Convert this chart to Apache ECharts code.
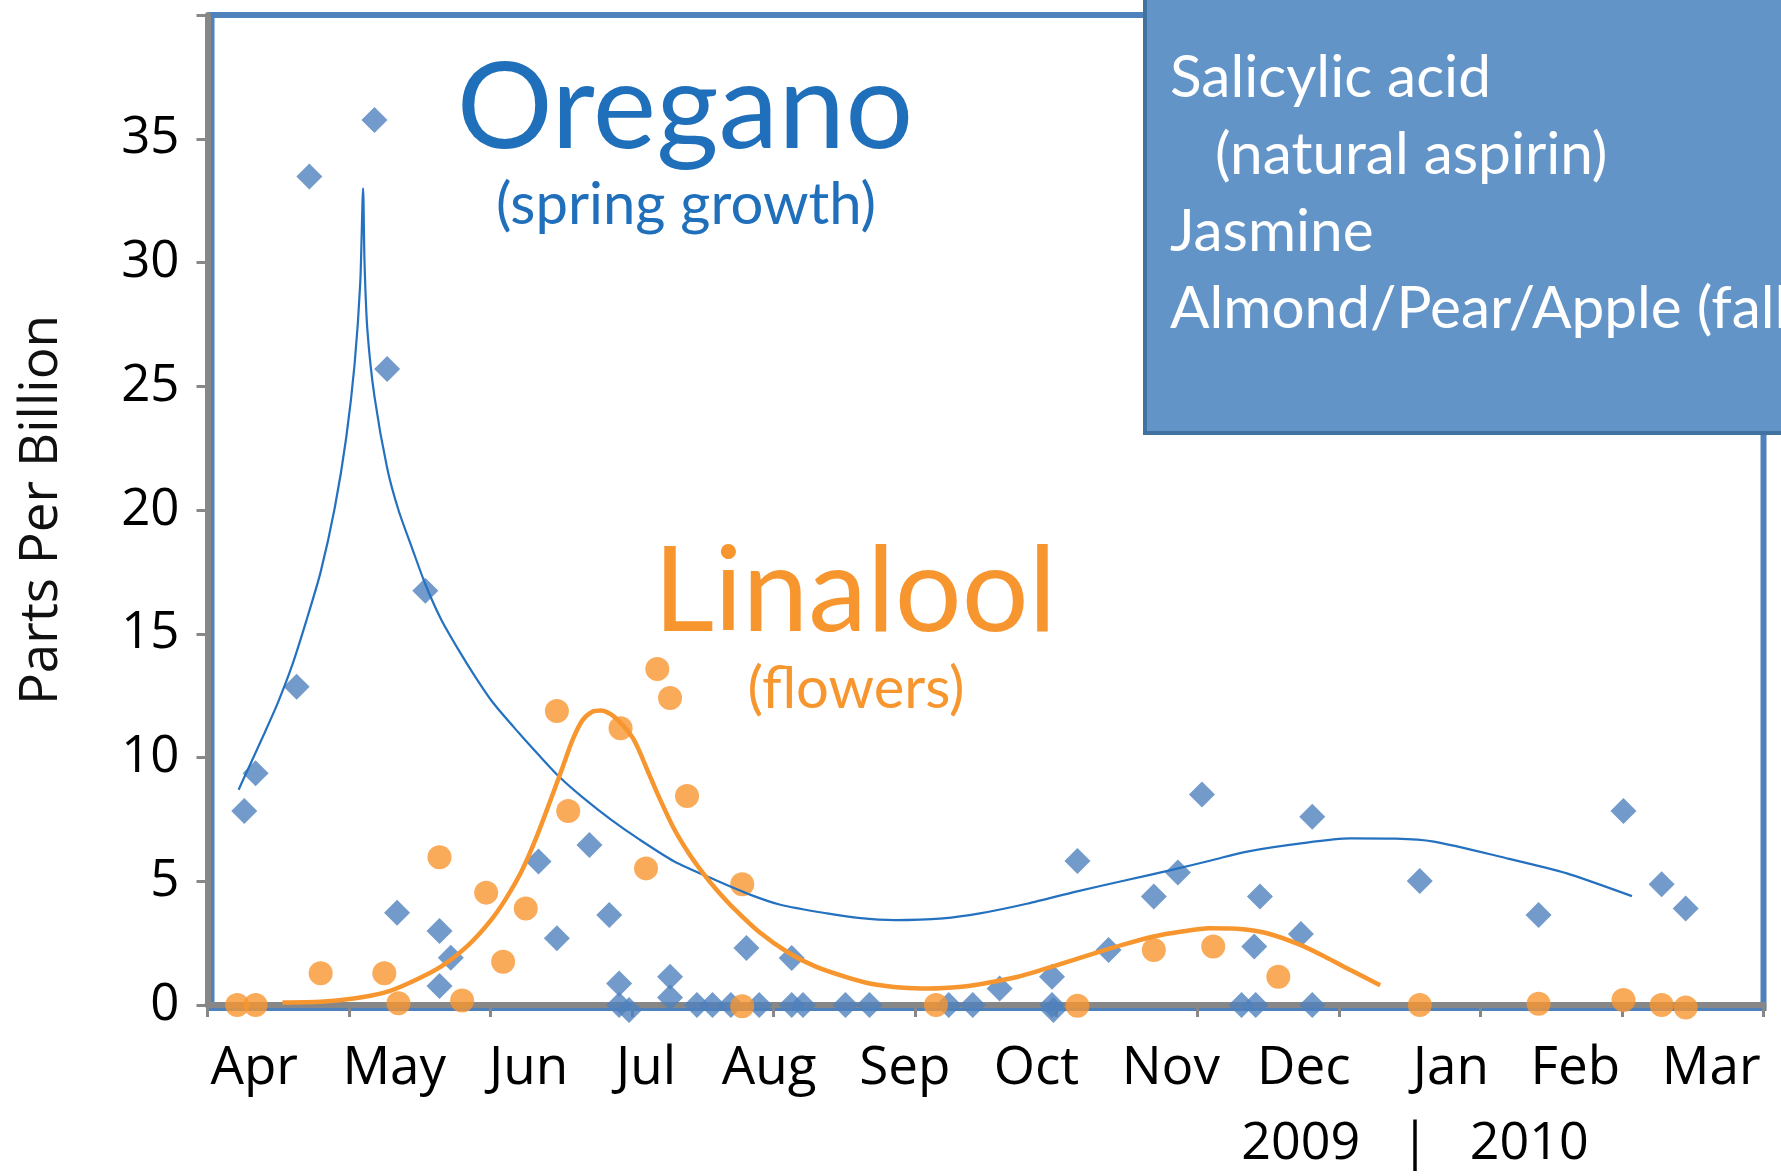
<!DOCTYPE html>
<html>
<head>
<meta charset="utf-8">
<title>Oregano / Linalool</title>
<script src="https://cdn.jsdelivr.net/npm/echarts@6.0.0/dist/echarts.min.js"></script>
<style>
  html, body { margin: 0; padding: 0; background: #fff; }
  #chart { width: 1781px; height: 1176px; }
</style>
</head>
<body>
<div id="chart"></div>
<script>
// x is in "months": 0 = first tick (start of Apr 2009), 11 = last tick
const monthNames = ['Apr', 'May', 'Jun', 'Jul', 'Aug', 'Sep', 'Oct', 'Nov', 'Dec', 'Jan', 'Feb', 'Mar'];
const monthLabelPos = [0.33, 1.32, 2.27, 3.10, 3.97, 4.93, 5.86, 6.81, 7.75, 8.79, 9.67, 10.63];

// measured points, parts per billion
const oreganoPoints = [
  [0.26, 7.84], [0.34, 9.36], [0.63, 12.86], [0.72, 33.47], [1.18, 35.76], [1.27, 25.7],
  [1.54, 16.74], [1.34, 3.73], [1.64, 2.99], [1.72, 1.91], [1.64, 0.77], [2.34, 5.8],
  [2.47, 2.7], [2.70, 6.46], [2.84, 3.64], [2.91, 0.87], [2.91, 0], [2.98, -0.2],
  [3.27, 1.14], [3.27, 0.3], [3.46, 0], [3.57, 0], [3.70, 0], [3.90, 0], [3.81, 2.3],
  [4.13, 1.9], [4.13, 0], [4.21, 0], [4.51, 0], [4.68, 0], [5.24, 0], [5.41, 0],
  [5.60, 0.67], [5.97, 1.14], [5.97, 0], [5.98, -0.2], [6.15, 5.82], [6.37, 2.22],
  [6.69, 4.38], [6.86, 5.35], [7.03, 8.51], [7.31, 0], [7.41, 0], [7.40, 2.36],
  [7.44, 4.38], [7.73, 2.87], [7.81, 7.61], [7.81, 0], [8.57, 5.01], [9.41, 3.64],
  [10.01, 7.84], [10.28, 4.88], [10.45, 3.9]
];
const linaloolPoints = [
  [0.21, 0], [0.34, 0], [0.80, 1.28], [1.25, 1.28], [1.35, 0.07], [1.64, 5.97],
  [1.80, 0.18], [1.97, 4.54], [2.09, 1.75], [2.25, 3.9], [2.47, 11.88], [2.55, 7.84],
  [2.92, 11.18], [3.10, 5.52], [3.18, 13.58], [3.27, 12.4], [3.39, 8.44], [3.78, 4.88],
  [3.78, -0.05], [5.15, 0], [6.15, -0.03], [6.69, 2.22], [7.11, 2.36], [7.57, 1.14],
  [8.57, 0], [9.41, 0.05], [10.01, 0.2], [10.28, 0], [10.45, -0.1]
];

// trend curves
const oreganoTrend = [
  [0.22, 8.7], [0.30, 9.7], [0.40, 10.95], [0.50, 12.25], [0.60, 13.75], [0.70, 15.55],
  [0.80, 17.5], [0.90, 20.1], [0.98, 22.9], [1.04, 25.9], [1.08, 29.2], [1.10, 33.0],
  [1.11, 30.0], [1.13, 27.3], [1.18, 24.6], [1.27, 21.7], [1.35, 20.0], [1.45, 18.4],
  [1.54, 17.0], [1.65, 15.6], [1.78, 14.3], [1.90, 13.2], [2.02, 12.2], [2.20, 11.0],
  [2.35, 10.05], [2.49, 9.2], [2.65, 8.4], [2.85, 7.5], [3.05, 6.7], [3.30, 5.8],
  [3.59, 5.05], [3.84, 4.45], [4.05, 4.05], [4.38, 3.7], [4.60, 3.52], [4.86, 3.43],
  [5.20, 3.5], [5.46, 3.7], [5.80, 4.1], [6.14, 4.58], [6.50, 5.05], [6.81, 5.45],
  [7.10, 5.85], [7.35, 6.2], [7.73, 6.53], [8.08, 6.73], [8.40, 6.72], [8.67, 6.6],
  [9.14, 5.99], [9.61, 5.32], [10.07, 4.40]
];
const linaloolTrend = [
  [0.53, 0.1], [0.80, 0.13], [1.02, 0.25], [1.25, 0.5], [1.43, 0.9], [1.65, 1.55],
  [1.84, 2.4], [2.00, 3.4], [2.11, 4.3], [2.22, 5.4], [2.32, 6.7], [2.42, 8.2],
  [2.51, 9.6], [2.58, 10.7], [2.65, 11.5], [2.72, 11.85], [2.78, 11.9], [2.85, 11.75],
  [2.92, 11.4], [3.00, 10.85], [3.05, 10.3], [3.12, 9.35], [3.20, 8.3], [3.30, 7.1],
  [3.40, 6.15], [3.50, 5.35], [3.60, 4.65], [3.73, 3.85], [3.90, 2.95], [4.11, 2.1],
  [4.30, 1.55], [4.51, 1.14], [4.70, 0.85], [4.92, 0.7], [5.10, 0.67], [5.33, 0.74],
  [5.50, 0.88], [5.73, 1.14], [6.00, 1.6], [6.27, 2.09], [6.48, 2.45], [6.68, 2.76],
  [6.90, 2.98], [7.08, 3.1], [7.28, 3.08], [7.49, 2.9], [7.73, 2.42], [7.90, 1.95],
  [8.08, 1.41], [8.29, 0.8]
];

const boxLines = ['Salicylic acid', '   (natural aspirin)', 'Jasmine', 'Almond/Pear/Apple (fall)'];

const axisGray = '#878787';
const labelFont = 'Open Sans';

function monthAt(v) {
  let best = 0;
  monthLabelPos.forEach((p, i) => {
    if (Math.abs(p - v) < Math.abs(monthLabelPos[best] - v)) best = i;
  });
  return monthNames[best];
}

const chart = echarts.init(document.getElementById('chart'));
const option = {
  backgroundColor: '#fff',
  animation: false,
  grid: [
    { left: 207.5, top: 15, right: 17.5, bottom: 171 },
    // blue plot frame, sits just inside the gray axes
    { left: 211.5, top: 15, right: 17.5, bottom: 168, show: true, borderColor: '#4f81bd', borderWidth: 6, z: -1 }
  ],
  xAxis: [
    {
      type: 'value', gridIndex: 0, min: 0, max: 11, interval: 1,
      splitLine: { show: false },
      axisLine: { show: true, onZero: false, lineStyle: { color: axisGray, width: 6 } },
      axisTick: { show: true, length: 12, lineStyle: { color: axisGray, width: 3 } },
      axisLabel: {
        customValues: monthLabelPos,
        margin: 37, fontFamily: labelFont, fontSize: 53, color: '#000',
        formatter: v => monthAt(v)
      }
    },
    { type: 'value', gridIndex: 1, show: false, min: 0, max: 1 }
  ],
  yAxis: [
    {
      type: 'value', gridIndex: 0, min: 0, max: 40, interval: 5,
      splitLine: { show: false },
      axisLine: { show: true, onZero: false, lineStyle: { color: axisGray, width: 6 } },
      axisTick: { show: true, length: 11, lineStyle: { color: axisGray, width: 3 } },
      axisLabel: {
        margin: 28, fontFamily: labelFont, fontSize: 51, color: '#000',
        formatter: v => (v === 40 ? '' : String(v))
      },
      name: 'Parts Per Billion', nameLocation: 'middle', nameGap: 139,
      nameTextStyle: { fontFamily: labelFont, fontSize: 53, color: '#111' }
    },
    { type: 'value', gridIndex: 1, show: false, min: 0, max: 1 }
  ],
  series: [
    {
      name: 'Oregano', type: 'scatter', data: oreganoPoints, clip: false,
      symbol: 'diamond', symbolSize: 26, itemStyle: { color: '#4f81bd' }, z: 2
    },
    {
      name: 'Linalool', type: 'scatter', data: linaloolPoints, clip: false,
      symbol: 'circle', symbolSize: 24, itemStyle: { color: '#f7962f' }, z: 3
    },
    {
      name: 'Oregano trend', type: 'line', data: oreganoTrend, showSymbol: false, smooth: 0.25,
      lineStyle: { color: '#2471bf', width: 2.2 }, z: 4
    },
    {
      name: 'Linalool trend', type: 'line', data: linaloolTrend, showSymbol: false, smooth: 0.25,
      lineStyle: { color: '#f7962f', width: 4.5 }, z: 5
    }
  ],
  graphic: [
    { type: 'text', x: 685, y: 109, style: { text: 'Oregano', fontFamily: 'Lato', fontSize: 120, fill: '#1f6fba', align: 'center', verticalAlign: 'middle' } },
    { type: 'text', x: 686, y: 205, style: { text: '(spring growth)', fontFamily: 'Lato', fontSize: 58, fill: '#1f6fba', align: 'center', verticalAlign: 'middle' } },
    { type: 'text', x: 855, y: 593, style: { text: 'Linalool', fontFamily: 'Lato', fontSize: 118, fill: '#f7962f', align: 'center', verticalAlign: 'middle' } },
    { type: 'text', x: 856, y: 689, style: { text: '(flowers)', fontFamily: 'Lato', fontSize: 58, fill: '#f7962f', align: 'center', verticalAlign: 'middle' } },
    { type: 'text', x: 1415, y: 1144, style: { text: '2009   |   2010', fontFamily: labelFont, fontSize: 52, fill: '#000', align: 'center', verticalAlign: 'middle' } },
    { type: 'rect', z: 100, shape: { x: 1145, y: -10, width: 700, height: 443 }, style: { fill: '#6394c8', stroke: '#42729f', lineWidth: 4 } },
    { type: 'text', z: 101, x: 1170, y: 40, style: { text: boxLines.join('\n'), fontFamily: 'Lato', fontSize: 58.5, lineHeight: 77, fill: '#fff', verticalAlign: 'top' } }
  ]
};
chart.setOption(option);
</script>
</body>
</html>
